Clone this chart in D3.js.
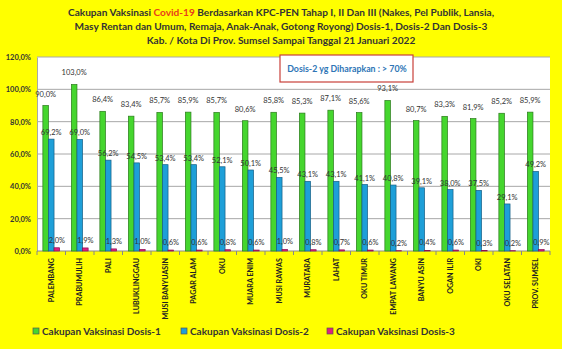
<!DOCTYPE html>
<html><head><meta charset="utf-8">
<script src="https://cdn.jsdelivr.net/npm/d3@7"></script>
<style>
html,body{margin:0;padding:0;background:#ffff00;}
svg{display:block;}
text{font-family:Lato,"Open Sans",sans-serif;}
</style></head>
<body>
<script>
const categories = ["PALEMBANG","PRABUMULIH","PALI","LUBUKLINGGAU","MUSI BANYUASIN","PAGAR ALAM","OKU","MUARA ENIM","MUSI RAWAS","MURATARA","LAHAT","OKU TIMUR","EMPAT LAWANG","BANYU ASIN","OGAN ILIR","OKI","OKU SELATAN","PROV. SUMSEL"];
const dosis1 = [90.0,103.0,86.4,83.4,85.7,85.9,85.7,80.6,85.8,85.3,87.1,85.6,93.1,80.7,83.3,81.9,85.2,85.9];
const dosis2 = [69.2,69.0,56.2,54.5,53.4,53.4,52.1,50.1,45.5,43.1,43.1,41.1,40.8,39.1,38.0,37.5,29.1,49.2];
const dosis3 = [2.0,1.9,1.3,1.0,0.6,0.6,0.8,0.6,1.0,0.8,0.7,0.6,0.2,0.4,0.6,0.3,0.2,0.9];
const yTicks = [0,20,40,60,80,100,120];
const seriesNames = ["Cakupan Vaksinasi Dosis-1","Cakupan Vaksinasi Dosis-2","Cakupan Vaksinasi Dosis-3"];
const colors = ["#45d62e","#1e9fd8","#e0207f"];
const strokes = ["#2a7a1a","#155f85","#8a1050"];

const W=562,H=349;
const m={left:37,right:12,top:57,bottom:98};
const svg=d3.select("body").append("svg").attr("width",W).attr("height",H);
svg.append("rect").attr("width",W).attr("height",H).attr("fill","#ffff00");

const x=d3.scaleBand().domain(categories).range([m.left,W-m.right]);
const y=d3.scaleLinear().domain([0,120]).range([H-m.bottom,m.top]);
const xs=d3.scaleBand().domain([0,1,2]).range([0,x.bandwidth()]).paddingInner(0).paddingOuter(1.05);

// plot area
svg.append("rect").attr("x",m.left).attr("y",m.top).attr("width",W-m.left-m.right).attr("height",H-m.top-m.bottom).attr("fill","#ffffff");

// gridlines
svg.append("g").selectAll("line").data(yTicks.filter(d=>d>0)).join("line")
  .attr("x1",m.left).attr("x2",W-m.right).attr("y1",d=>y(d)).attr("y2",d=>y(d))
  .attr("stroke","#a8a8a8").attr("stroke-width",1);

// y axis
const yAxis=d3.axisLeft(y).tickValues(yTicks).tickSize(0).tickPadding(6).tickFormat(d=>d.toFixed(1).replace(".",",")+"%");
const ya=svg.append("g").attr("transform",`translate(${m.left},0)`).call(yAxis);
ya.select(".domain").attr("stroke","#a8a8a8");
ya.selectAll("text").attr("font-size",7.5).attr("fill","#333").attr("font-weight","bold");

// x axis
const xa=svg.append("g").attr("transform",`translate(0,${y(0)})`);
xa.append("line").attr("x1",m.left).attr("x2",W-m.right).attr("stroke","#888");
xa.selectAll("line.tk").data(d3.range(categories.length+1)).join("line").attr("class","tk")
  .attr("x1",i=>m.left+i*x.step()).attr("x2",i=>m.left+i*x.step()).attr("y1",0).attr("y2",4).attr("stroke","#888");
xa.selectAll("text").data(categories).join("text")
  .attr("transform",d=>`translate(${x(d)+x.bandwidth()/2+2.5},7) rotate(-90)`)
  .attr("text-anchor","end").attr("font-size",7.2).attr("font-weight","bold").attr("fill","#222").text(d=>d);

const all=[dosis1,dosis2,dosis3];
const fmt=v=>v.toFixed(1).replace(".",",")+"%";
const labelOffset=[9,4,5];
all.forEach((arr,s)=>{
  const g=svg.append("g");
  g.selectAll("rect").data(arr).join("rect")
    .attr("x",(d,i)=>x(categories[i])+xs(s)).attr("width",xs.bandwidth())
    .attr("y",d=>y(d)).attr("height",d=>y(0)-y(d))
    .attr("fill",colors[s]).attr("stroke",strokes[s]).attr("stroke-width",0.7);
  g.selectAll("text").data(arr).join("text")
    .attr("x",(d,i)=>x(categories[i])+xs(s)+xs.bandwidth()/2)
    .attr("y",d=>y(d)-labelOffset[s])
    .attr("text-anchor","middle").attr("font-size",7.5).attr("fill","#333").text(fmt);
});

// title
const title=svg.append("text").attr("text-anchor","middle").attr("font-size",10.1).attr("font-weight","bold").attr("fill","#333");
const t1=title.append("tspan").attr("x",W/2).attr("y",16);
t1.append("tspan").text("Cakupan Vaksinasi ");
t1.append("tspan").attr("fill","#e8401c").text("Covid-19");
t1.append("tspan").text("  Berdasarkan KPC-PEN Tahap I, II Dan III (Nakes, Pel Publik, Lansia,");
title.append("tspan").attr("x",W/2).attr("y",30).text("Masy Rentan dan Umum, Remaja, Anak-Anak, Gotong Royong) Dosis-1, Dosis-2 Dan Dosis-3");
title.append("tspan").attr("x",W/2).attr("y",44).text("Kab. / Kota Di Prov.  Sumsel  Sampai Tanggal 21 Januari 2022");

// callout
svg.append("rect").attr("x",280).attr("y",55).attr("width",133).attr("height",27).attr("fill","#fff").attr("stroke","#c8403a").attr("stroke-width",1.2);
svg.append("text").attr("x",347).attr("y",71.5).attr("text-anchor","middle").attr("font-size",8.8).attr("font-weight","bold").attr("fill","#2e75b6").text("Dosis-2 yg Diharapkan : > 70%");

// legend
const lx=[33,181,327];
const lg=svg.append("g");
seriesNames.forEach((n,i)=>{
  lg.append("rect").attr("x",lx[i]).attr("y",328).attr("width",6).attr("height",6).attr("fill",colors[i]).attr("stroke","#555").attr("stroke-width",0.7);
  lg.append("text").attr("x",lx[i]+9).attr("y",334.5).attr("font-size",10).attr("font-weight","bold").attr("fill","#333").text(n);
});
</script>
</body></html>
